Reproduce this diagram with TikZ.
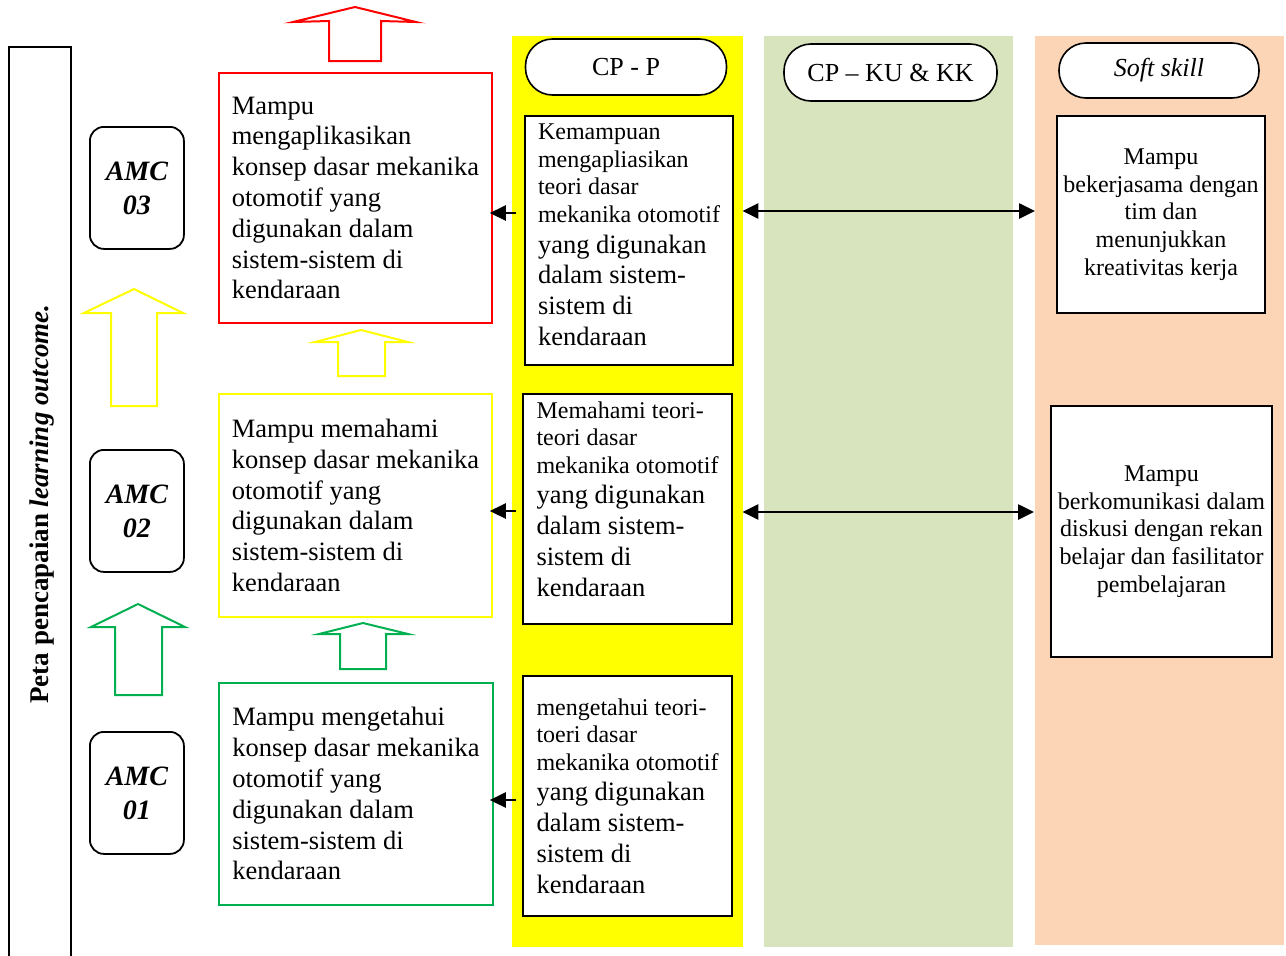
\documentclass[tikz,border=0pt]{standalone}
\usepackage{fontspec}
\setmainfont{Liberation Serif}
\usetikzlibrary{arrows.meta}
\definecolor{colgreen}{HTML}{D7E4BD}
\definecolor{colpeach}{HTML}{FBD5B5}
\definecolor{bgreen}{HTML}{00B050}
\definecolor{byellow}{HTML}{FFFF00}
\newcommand{\Ln}[1]{\hbox{#1}}
\newcommand{\FL}{\fontsize{26.5}{30.8}\selectfont}
\newcommand{\FS}{\fontsize{24}{27.5}\selectfont}
\tikzset{
  myhead/.tip={Triangle[length=16pt,width=15pt]},
  arr/.style={line width=2.6pt, -myhead},
  darr/.style={line width=2.6pt, myhead-myhead},
}
\begin{document}
\begin{tikzpicture}[x=1pt,y=-1pt,
  box/.style={draw, line width=2pt, inner sep=0pt, anchor=north west, fill=white},
  colbox/.style={inner sep=0pt, anchor=north west},
  head/.style={draw, line width=1.6pt, fill=white, rounded corners=27pt, inner sep=0pt, font=\fontsize{26}{30}\selectfont},
  amc/.style={draw, line width=1.8pt, rounded corners=14pt, inner sep=0pt, anchor=north west, align=center,
    minimum width=94pt, minimum height=122pt, font=\fontsize{28}{34}\selectfont\bfseries\itshape},
  blk/.style={line width=2pt, line join=miter}
]
\useasboundingbox (0,0) rectangle (1286,956);

% columns
\node[colbox, fill=byellow, minimum width=231pt, minimum height=911pt] (colP) at (512,36) {};
\node[colbox, fill=colgreen, minimum width=249pt, minimum height=911pt] (colK) at (764,36) {};
\node[colbox, fill=colpeach, minimum width=249pt, minimum height=909pt] (colS) at (1035,36) {};

% headers
\node[head, minimum width=201pt, minimum height=56pt] (hP) at (626,67) {CP - P};
\node[head, minimum width=213pt, minimum height=57pt] (hK) at (890.5,72.5) {CP -- KU \& KK};
\node[head, minimum width=200pt, minimum height=55pt] (hS) at (1159,70.5) {\itshape Soft skill};

% left frame
\draw[line width=1.8pt] (9,956) -- (9,47) -- (71,47) -- (71,956);
\node[rotate=90, font=\fontsize{27}{31}\selectfont\bfseries] (title) at (42,504) {Peta pencapaian \textit{learning outcome.}};

% AMC boxes
\node[amc] (am3) at (89,126) {AMC\\03};
\node[amc] (am2) at (89,449) {AMC\\02};
\node[amc] (am1) at (89,731) {AMC\\01};

% left outcome boxes
\node[box, line width=1.8pt, draw=red, minimum width=273pt, minimum height=250pt] (lb3) at (218,72)
 {\vbox{\FL\Ln{Mampu}\Ln{mengaplikasikan}\Ln{konsep dasar mekanika}\Ln{otomotif yang}\Ln{digunakan dalam}\Ln{sistem-sistem di}\Ln{kendaraan}}};
\node[box, line width=1.8pt, draw=byellow, minimum width=273pt, minimum height=223pt] (lb2) at (218,393)
 {\vbox{\FL\Ln{Mampu memahami}\Ln{konsep dasar mekanika}\Ln{otomotif yang}\Ln{digunakan dalam}\Ln{sistem-sistem di}\Ln{kendaraan}}};
\node[box, line width=1.8pt, draw=bgreen, minimum width=274pt, minimum height=222pt] (lb1) at (218,682)
 {\vbox{\FL\Ln{Mampu mengetahui}\Ln{konsep dasar mekanika}\Ln{otomotif yang}\Ln{digunakan dalam}\Ln{sistem-sistem di}\Ln{kendaraan}}};

% CP-P boxes
\node[box, minimum width=208pt, minimum height=249pt] (cp3) at (524,115)
 {\vbox{\FS\Ln{Kemampuan}\Ln{mengapliasikan}\Ln{teori dasar}\Ln{mekanika otomotif}\FL\Ln{yang digunakan}\Ln{dalam sistem-}\Ln{sistem di}\Ln{kendaraan}\vskip 11pt}};
\node[box, minimum width=209pt, minimum height=230pt] (cp2) at (522,393)
 {\vbox{\FS\Ln{Memahami teori-}\Ln{teori dasar}\Ln{mekanika otomotif}\FL\Ln{yang digunakan}\Ln{dalam sistem-}\Ln{sistem di}\Ln{kendaraan}\vskip 20pt}};
\node[box, minimum width=209pt, minimum height=240pt] (cp1) at (522,675)
 {\vbox{\FS\Ln{mengetahui teori-}\Ln{toeri dasar}\Ln{mekanika otomotif}\FL\Ln{yang digunakan}\Ln{dalam sistem-}\Ln{sistem di}\Ln{kendaraan}}};

% soft skill boxes
\node[box, minimum width=208pt, minimum height=197pt, align=center, font=\fontsize{24}{27.7}\selectfont] (rb1) at (1056,115)
 {Mampu\\bekerjasama dengan\\tim dan\\menunjukkan\\kreativitas kerja};
\node[box, minimum width=221pt, minimum height=251pt, align=center, font=\fontsize{24}{27.7}\selectfont] (rb2) at (1050,405)
 {Mampu\\berkomunikasi dalam\\diskusi dengan rekan\\belajar dan fasilitator\\pembelajaran};

% arrow levels
\coordinate (ya) at (0,213);
\coordinate (yb) at (0,511);
\coordinate (yc) at (0,800);
\coordinate (yd) at (0,211);
\coordinate (ye) at (0,512);

\draw[arr] ([xshift=4pt]colP.west |- ya) -- ([xshift=-3pt]lb3.east |- ya);
\draw[arr] ([xshift=4pt]colP.west |- yb) -- ([xshift=-3pt]lb2.east |- yb);
\draw[arr] ([xshift=4pt]colP.west |- yc) -- ([xshift=-4pt]lb1.east |- yc);
\draw[darr] ([xshift=-1pt]colP.east |- yd) -- (colS.west |- yd);
\draw[darr] ([xshift=-1pt]colP.east |- ye) -- ([xshift=-1pt]colS.west |- ye);

% block arrows
\draw[blk, red] (329,61) -- (329,21) -- (293,22) -- (355,7) -- (416,22) -- (381,21) -- (381,61) -- cycle;
\draw[blk, byellow] (111,406) -- (111,313) -- (84,313) -- (134,289) -- (183,313) -- (157,313) -- (157,406) -- cycle;
\draw[blk, bgreen] (115,695) -- (115,627) -- (91,627) -- (138,604) -- (185,627) -- (162,627) -- (162,695) -- cycle;
\draw[blk, byellow] (338,376) -- (338,342) -- (315,342) -- (361,330) -- (408,342) -- (385,342) -- (385,376) -- cycle;
\draw[blk, bgreen] (340,669) -- (340,634) -- (319,634) -- (363,623) -- (408,634) -- (386,634) -- (386,669) -- cycle;
\end{tikzpicture}
\end{document}
